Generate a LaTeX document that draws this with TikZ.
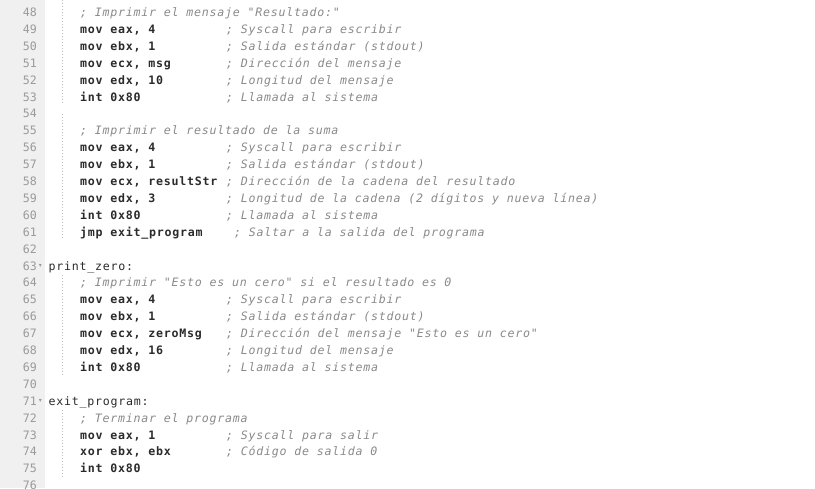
\documentclass[tikz,border=0pt]{standalone}
\usepackage{fontspec}
\newfontfamily\codefont[LetterSpace=6.6]{DejaVu Sans Mono}
\newfontfamily\numfont{DejaVu Sans Mono}
\newfontfamily\symfont{DejaVu Sans}
\definecolor{gutterbg}{HTML}{F0F0F0}
\definecolor{numcol}{HTML}{9A9A9A}
\definecolor{codecol}{HTML}{2B2B2B}
\definecolor{commcol}{HTML}{8A8A8A}
\definecolor{guidecol}{HTML}{BDBDBD}
\tikzset{
  lnum/.style={anchor=base east,inner sep=0pt,font=\numfont\fontsize{11.6}{13}\selectfont,text=numcol},
  code/.style={anchor=base west,inner sep=0pt,font=\codefont\fontsize{11.6}{13}\selectfont\bfseries,text=codecol},
  label/.style={anchor=base west,inner sep=0pt,font=\codefont\fontsize{11.6}{13}\selectfont,text=codecol},
  comm/.style={anchor=base west,inner sep=0pt,font=\codefont\fontsize{11.6}{13}\selectfont\itshape,text=commcol},
  fold/.style={inner sep=0pt,font=\symfont\fontsize{6}{7}\selectfont,text=numcol},
  guide/.style={draw=guidecol,line width=0.8pt,dash pattern=on 1pt off 2pt}
}
\begin{document}
\begin{tikzpicture}[x=1pt,y=-1pt]
\useasboundingbox (0,0) rectangle (815,488);
\fill[white] (0,0) rectangle (815,488);
\fill[gutterbg] (0,0) rectangle (45,488);
% indent guides
\draw[guide] (62,0) -- (62,105);
\draw[guide] (62,114) -- (62,240);
\draw[guide] (62,275) -- (62,375);
\draw[guide] (62,410) -- (62,477);
% line numbers (baseline = 16.5 + (n-48)*16.9)
\foreach \n [evaluate=\n as \yy using {16.5+(\n-48)*16.9}] in {48,...,76}{
  \node[lnum] (ln\n) at (37,\yy) {\n};
}
\node[fold] (f63) at (40.5,265.5) {▾};
\node[fold] (f71) at (40.5,400.7) {▾};
% line 48-53
\node[comm] (k48) at (80,16.5) {; Imprimir el mensaje "Resultado:"};
\node[code] (c49) at (80,33.4) {mov eax, 4};
\node[comm] (k49) at (226,33.4) {; Syscall para escribir};
\node[code] (c50) at (80,50.3) {mov ebx, 1};
\node[comm] (k50) at (226,50.3) {; Salida estándar (stdout)};
\node[code] (c51) at (80,67.2) {mov ecx, msg};
\node[comm] (k51) at (226,67.2) {; Dirección del mensaje};
\node[code] (c52) at (80,84.1) {mov edx, 10};
\node[comm] (k52) at (226,84.1) {; Longitud del mensaje};
\node[code] (c53) at (80,101.0) {int 0x80};
\node[comm] (k53) at (226,101.0) {; Llamada al sistema};
% line 55-61
\node[comm] (k55) at (80,134.8) {; Imprimir el resultado de la suma};
\node[code] (c56) at (80,151.7) {mov eax, 4};
\node[comm] (k56) at (226,151.7) {; Syscall para escribir};
\node[code] (c57) at (80,168.6) {mov ebx, 1};
\node[comm] (k57) at (226,168.6) {; Salida estándar (stdout)};
\node[code] (c58) at (80,185.5) {mov ecx, resultStr};
\node[comm] (k58) at (226,185.5) {; Dirección de la cadena del resultado};
\node[code] (c59) at (80,202.4) {mov edx, 3};
\node[comm] (k59) at (226,202.4) {; Longitud de la cadena (2 dígitos y nueva línea)};
\node[code] (c60) at (80,219.3) {int 0x80};
\node[comm] (k60) at (226,219.3) {; Llamada al sistema};
\node[code] (c61) at (80,236.2) {jmp exit\_program};
\node[comm] (k61) at (234,236.2) {; Saltar a la salida del programa};
% line 63-69
\node[label] (c63) at (48.5,270.0) {print\_zero:};
\node[comm] (k64) at (80,286.9) {; Imprimir "Esto es un cero" si el resultado es 0};
\node[code] (c65) at (80,303.8) {mov eax, 4};
\node[comm] (k65) at (226,303.8) {; Syscall para escribir};
\node[code] (c66) at (80,320.7) {mov ebx, 1};
\node[comm] (k66) at (226,320.7) {; Salida estándar (stdout)};
\node[code] (c67) at (80,337.6) {mov ecx, zeroMsg};
\node[comm] (k67) at (226,337.6) {; Dirección del mensaje "Esto es un cero"};
\node[code] (c68) at (80,354.5) {mov edx, 16};
\node[comm] (k68) at (226,354.5) {; Longitud del mensaje};
\node[code] (c69) at (80,371.4) {int 0x80};
\node[comm] (k69) at (226,371.4) {; Llamada al sistema};
% line 71-75
\node[label] (c71) at (48.5,405.2) {exit\_program:};
\node[comm] (k72) at (80,422.1) {; Terminar el programa};
\node[code] (c73) at (80,439.0) {mov eax, 1};
\node[comm] (k73) at (226,439.0) {; Syscall para salir};
\node[code] (c74) at (80,455.9) {xor ebx, ebx};
\node[comm] (k74) at (226,455.9) {; Código de salida 0};
\node[code] (c75) at (80,472.8) {int 0x80};
\end{tikzpicture}
\end{document}
